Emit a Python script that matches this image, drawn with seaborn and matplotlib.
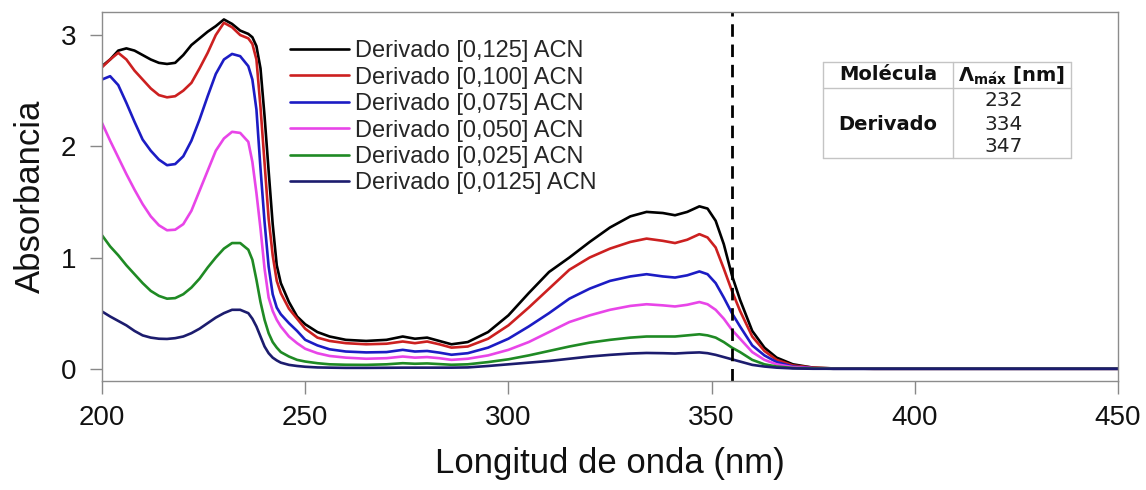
import numpy as np
import pandas as pd
import matplotlib
matplotlib.use("Agg")
import matplotlib.pyplot as plt
import seaborn as sns

wavelength = [200, 202, 204, 206, 208, 210, 212, 214, 216, 218, 220, 222, 224, 226, 228,
              230, 232, 234, 236, 237, 238, 239, 240, 241, 242, 243, 244, 246, 248, 250,
              253, 256, 260, 265, 270, 274, 277, 280, 283, 286, 290, 295, 300, 305, 310,
              315, 320, 325, 330, 334, 338, 341, 344, 347, 349, 351, 353, 355, 357, 360,
              363, 366, 370, 375, 380, 390, 400, 450]

abs_0125 = [2.72, 2.78, 2.86, 2.88, 2.86, 2.82, 2.78, 2.75, 2.74, 2.75, 2.82, 2.91, 2.97, 3.03, 3.08,
            3.14, 3.10, 3.04, 3.01, 2.98, 2.90, 2.70, 2.27, 1.78, 1.30, 0.93, 0.77, 0.60, 0.47, 0.40,
            0.33, 0.29, 0.26, 0.25, 0.26, 0.29, 0.27, 0.28, 0.25, 0.22, 0.24, 0.33, 0.48, 0.68, 0.87,
            1.00, 1.14, 1.27, 1.37, 1.41, 1.40, 1.38, 1.41, 1.46, 1.44, 1.33, 1.12, 0.84, 0.62, 0.34,
            0.19, 0.10, 0.04, 0.01, 0.003, 0.0, 0.0, 0.0]
abs_0100 = [2.71, 2.78, 2.84, 2.78, 2.68, 2.60, 2.52, 2.46, 2.44, 2.45, 2.50, 2.57, 2.70, 2.84, 3.00,
            3.11, 3.07, 3.00, 2.97, 2.92, 2.78, 2.35, 1.85, 1.35, 1.02, 0.79, 0.68, 0.54, 0.45, 0.36,
            0.28, 0.25, 0.23, 0.22, 0.225, 0.245, 0.23, 0.245, 0.22, 0.19, 0.20, 0.27, 0.39, 0.55, 0.72,
            0.89, 1.00, 1.08, 1.14, 1.17, 1.15, 1.13, 1.16, 1.21, 1.18, 1.09, 0.90, 0.70, 0.52, 0.29,
            0.16, 0.08, 0.03, 0.01, 0.003, 0.0, 0.0, 0.0]
abs_0075 = [2.60, 2.63, 2.55, 2.39, 2.22, 2.06, 1.96, 1.88, 1.83, 1.84, 1.91, 2.05, 2.24, 2.45, 2.65,
            2.78, 2.83, 2.81, 2.72, 2.60, 2.33, 1.80, 1.32, 0.92, 0.67, 0.55, 0.49, 0.41, 0.34, 0.26,
            0.21, 0.175, 0.155, 0.147, 0.15, 0.17, 0.155, 0.16, 0.145, 0.126, 0.14, 0.19, 0.27, 0.38, 0.50,
            0.63, 0.72, 0.79, 0.83, 0.85, 0.83, 0.82, 0.84, 0.875, 0.85, 0.77, 0.64, 0.50, 0.38, 0.21,
            0.12, 0.06, 0.02, 0.005, 0.0, 0.0, 0.0, 0.0]
abs_0050 = [2.21, 2.05, 1.90, 1.75, 1.61, 1.48, 1.37, 1.29, 1.245, 1.25, 1.30, 1.42, 1.60, 1.78, 1.96,
            2.07, 2.13, 2.12, 2.04, 1.86, 1.58, 1.26, 0.90, 0.64, 0.52, 0.44, 0.38, 0.29, 0.23, 0.18,
            0.14, 0.115, 0.10, 0.09, 0.095, 0.11, 0.10, 0.105, 0.095, 0.08, 0.09, 0.12, 0.17, 0.24, 0.33,
            0.42, 0.48, 0.53, 0.565, 0.58, 0.57, 0.56, 0.575, 0.60, 0.58, 0.53, 0.45, 0.35, 0.27, 0.15,
            0.08, 0.04, 0.015, 0.004, 0.0, 0.0, 0.0, 0.0]
abs_0025 = [1.20, 1.10, 1.02, 0.93, 0.85, 0.77, 0.70, 0.655, 0.63, 0.635, 0.67, 0.73, 0.81, 0.91, 1.00,
            1.08, 1.13, 1.13, 1.07, 0.98, 0.80, 0.60, 0.44, 0.32, 0.24, 0.19, 0.15, 0.11, 0.08, 0.065,
            0.05, 0.04, 0.036, 0.035, 0.04, 0.05, 0.045, 0.048, 0.042, 0.036, 0.04, 0.06, 0.085, 0.12, 0.16,
            0.20, 0.235, 0.26, 0.28, 0.29, 0.29, 0.29, 0.30, 0.31, 0.30, 0.28, 0.24, 0.19, 0.15, 0.08,
            0.04, 0.02, 0.007, 0.002, 0.0, 0.0, 0.0, 0.0]
abs_00125 = [0.515, 0.47, 0.43, 0.39, 0.34, 0.30, 0.28, 0.27, 0.268, 0.275, 0.29, 0.32, 0.36, 0.41, 0.46,
             0.50, 0.53, 0.53, 0.50, 0.45, 0.38, 0.29, 0.20, 0.14, 0.10, 0.075, 0.055, 0.035, 0.025, 0.018,
             0.012, 0.01, 0.008, 0.008, 0.009, 0.01, 0.01, 0.01, 0.01, 0.01, 0.012, 0.025, 0.04, 0.055, 0.07,
             0.09, 0.11, 0.125, 0.137, 0.142, 0.14, 0.137, 0.143, 0.147, 0.14, 0.125, 0.105, 0.085, 0.065, 0.035,
             0.02, 0.01, 0.003, 0.0, 0.0, 0.0, 0.0, 0.0]

series_labels = ["Derivado [0,125] ACN", "Derivado [0,100] ACN", "Derivado [0,075] ACN",
                 "Derivado [0,050] ACN", "Derivado [0,025] ACN", "Derivado [0,0125] ACN"]
series_values = [abs_0125, abs_0100, abs_0075, abs_0050, abs_0025, abs_00125]
series_colors = ["#000000", "#cc2020", "#1c1cc4", "#e845e8", "#1f8a24", "#1c1c6e"]

cutoff_nm = 355
table_header = ["Molécula", r"$\mathbf{\Lambda_{m\acute{a}x}}$ [nm]"]
table_molecule = "Derivado"
table_lambdas = ["232", "334", "347"]

frames = []
for lab, vals in zip(series_labels, series_values):
    frames.append(pd.DataFrame({"nm": wavelength, "A": vals, "serie": lab}))
df = pd.concat(frames, ignore_index=True)

sns.set_theme(style="ticks")
plt.rcParams["font.family"] = ["Liberation Sans", "DejaVu Sans"]

fig = plt.figure(figsize=(11.46, 4.90), dpi=100)
ax = fig.add_axes([102 / 1146, 1 - 381 / 490, (1118 - 102) / 1146, (381 - 12) / 490])

sns.lineplot(data=df, x="nm", y="A", hue="serie", hue_order=series_labels,
             palette=series_colors, estimator=None, linewidth=1.9, ax=ax)

ax.axvline(cutoff_nm, color="black", linewidth=2.0, linestyle=(0, (4.5, 2.8)))

ax.set_xlim(200, 450)
ax.set_ylim(-0.11, 3.207)
ax.set_xticks([200, 250, 300, 350, 400, 450])
ax.set_yticks([0, 1, 2, 3])
ax.set_xlabel("Longitud de onda (nm)", fontsize=25, labelpad=11, color="#111111")
ax.set_ylabel("Absorbancia", fontsize=25, labelpad=10, color="#111111")
ax.tick_params(axis="both", which="major", direction="out", length=9, width=1,
               color="#888888", labelsize=20, labelcolor="#111111",
               bottom=True, left=True, top=False, right=False)
ax.tick_params(axis="x", pad=8.5)
ax.tick_params(axis="y", pad=9.5)
for sp in ax.spines.values():
    sp.set_color("#8c8c8c")
    sp.set_linewidth(1.0)
    sp.set_visible(True)

handles, labels = ax.get_legend_handles_labels()
ax.legend(handles, labels, loc="upper left", bbox_to_anchor=(0.185, 0.924),
          frameon=False, fontsize=17, handlelength=2.5, handletextpad=0.25,
          labelspacing=0.19, borderpad=0, borderaxespad=0)

# Inset table
tx = fig.add_axes([823 / 1146, 1 - 158 / 490, (1071 - 823) / 1146, (158 - 62) / 490])
tx.set_xlim(0, 1)
tx.set_ylim(0, 1)
tx.axis("off")
gc = "#c4c4c4"
split_x = 130 / 248
head_y = (158 - 88) / 96
for yy in [0, head_y, 1]:
    tx.plot([0, 1], [yy, yy], color=gc, lw=1.0, clip_on=False)
for xx in [0, split_x, 1]:
    tx.plot([xx, xx], [0, 1], color=gc, lw=1.0, clip_on=False)
tfam = ["DejaVu Sans"]
tx.text(split_x / 2, (158 - 75) / 96, table_header[0], ha="center", va="center",
        fontsize=14, fontweight="bold", family=tfam, color="#111111")
tx.text((split_x + 1) / 2, (158 - 76) / 96, table_header[1], ha="center", va="center",
        fontsize=14, fontweight="bold", family=tfam, color="#111111")
tx.text(split_x / 2, (158 - 125) / 96, table_molecule, ha="center", va="center",
        fontsize=14, fontweight="bold", family=tfam, color="#111111")
for i, v in enumerate(table_lambdas):
    tx.text(0.73, (158 - 101 - 23 * i) / 96, v, ha="center", va="center",
            fontsize=14.5, family=tfam, color="#222222")

fig.savefig("out.png", dpi=100)
